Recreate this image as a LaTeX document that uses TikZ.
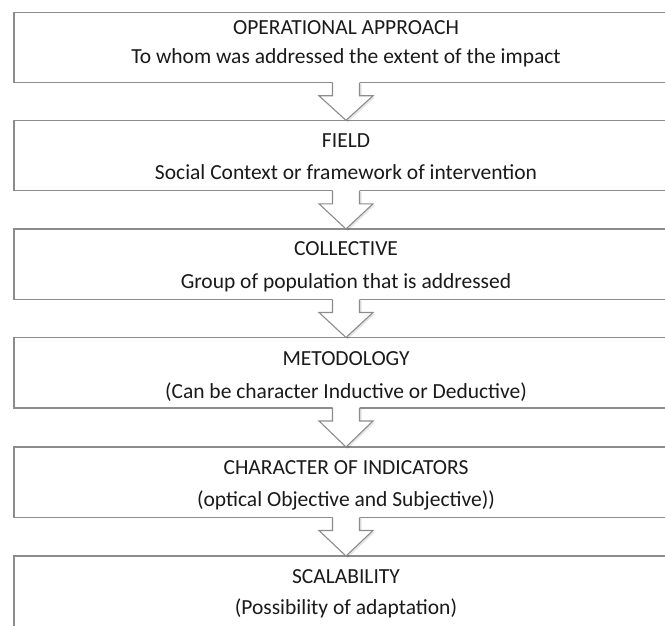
\documentclass[tikz,border=0pt]{standalone}
\usepackage{fontspec}
\setmainfont{Carlito}
\usetikzlibrary{calc}
\pgfdeclarelayer{background}
\pgfsetlayers{background,main}
\definecolor{edge}{HTML}{8C8C8C}
\definecolor{ink}{HTML}{1A1A1A}
\tikzset{
  box/.style={draw=edge, line width=1.1pt, fill=white, minimum width=664pt, minimum height=70.5pt, inner sep=0pt, outer sep=0pt, anchor=north west},
  ttl/.style={anchor=base, text=ink, font=\fontsize{21.5}{24}\selectfont, inner sep=0pt},
  arrowfill/.style={fill=white, draw=none},
  arrowedge/.style={draw=edge, line width=1.1pt, line join=miter},
}
\begin{document}
\begin{tikzpicture}[x=1pt,y=1pt]
\useasboundingbox (0,0) rectangle (665,-626);
\fill[white] (0,0) rectangle (665,-626);
\foreach \i/\t in {1/12.3,2/120.3,3/229,4/337.5,5/447,6/556}{
  \node[box] (b\i) at (14,-\t) {};
}
\begin{pgfonlayer}{background}
\foreach \i in {1,...,6}{
  \fill[black, opacity=0.06] ($(b\i.north west)+(-2.5,-4)$) rectangle ($(b\i.south east)+(0,-6.5)$);
  \fill[black, opacity=0.08] ($(b\i.north west)+(-1.5,-3)$) rectangle ($(b\i.south east)+(0,-4.5)$);
  \fill[black, opacity=0.12] ($(b\i.north west)+(-0.5,-2)$) rectangle ($(b\i.south east)+(0,-2.5)$);
}
\end{pgfonlayer}
% arrows
\foreach \a/\b in {1/2,2/3,3/4,4/5,5/6}{
  \fill[black, opacity=0.10] ($(b\a.south)+(-12,-1)$) -- ($(b\a.south)+(-12,-14.5)$) -- ($(b\a.south)+(-25.5,-14.5)$) -- ($(b\b.north)+(1.5,-2)$) -- ($(b\a.south)+(29,-14.5)$) -- ($(b\a.south)+(15.5,-14.5)$) -- ($(b\a.south)+(15.5,-1)$) -- cycle;
  \fill[arrowfill] ($(b\a.south)+(-13.5,1)$) -- ($(b\a.south)+(-13.5,-13)$) -- ($(b\a.south)+(-27,-13)$) -- (b\b.north) -- ($(b\a.south)+(27,-13)$) -- ($(b\a.south)+(13.5,-13)$) -- ($(b\a.south)+(13.5,1)$) -- cycle;
  \draw[arrowedge] ($(b\a.south)+(-13.5,0)$) -- ($(b\a.south)+(-13.5,-13)$) -- ($(b\a.south)+(-27,-13)$) -- (b\b.north) -- ($(b\a.south)+(27,-13)$) -- ($(b\a.south)+(13.5,-13)$) -- ($(b\a.south)+(13.5,0)$);
}
% texts
\node[ttl] (t1) at ($(b1.north)+(0,-22)$) {OPERATIONAL APPROACH};
\node[ttl] (s1) at ($(b1.north)+(0,-51)$) {To whom was addressed the extent of the impact};
\node[ttl] (t2) at ($(b2.north)+(0,-27)$) {FIELD};
\node[ttl] (s2) at ($(b2.north)+(0,-59.5)$) {Social Context or framework of intervention};
\node[ttl] (t3) at ($(b3.north)+(0,-26.5)$) {COLLECTIVE};
\node[ttl] (s3) at ($(b3.north)+(0,-59)$) {Group of population that is addressed};
\node[ttl] (t4) at ($(b4.north)+(0,-27.5)$) {METODOLOGY};
\node[ttl] (s4) at ($(b4.north)+(0,-60.5)$) {(Can be character Inductive or Deductive)};
\node[ttl] (t5) at ($(b5.north)+(0,-27.5)$) {CHARACTER OF INDICATORS};
\node[ttl] (s5) at ($(b5.north)+(0,-59.8)$) {(optical Objective and Subjective))};
\node[ttl] (t6) at ($(b6.north)+(0,-27.8)$) {SCALABILITY};
\node[ttl] (s6) at ($(b6.north)+(0,-58.3)$) {(Possibility of adaptation)};
\end{tikzpicture}
\end{document}
